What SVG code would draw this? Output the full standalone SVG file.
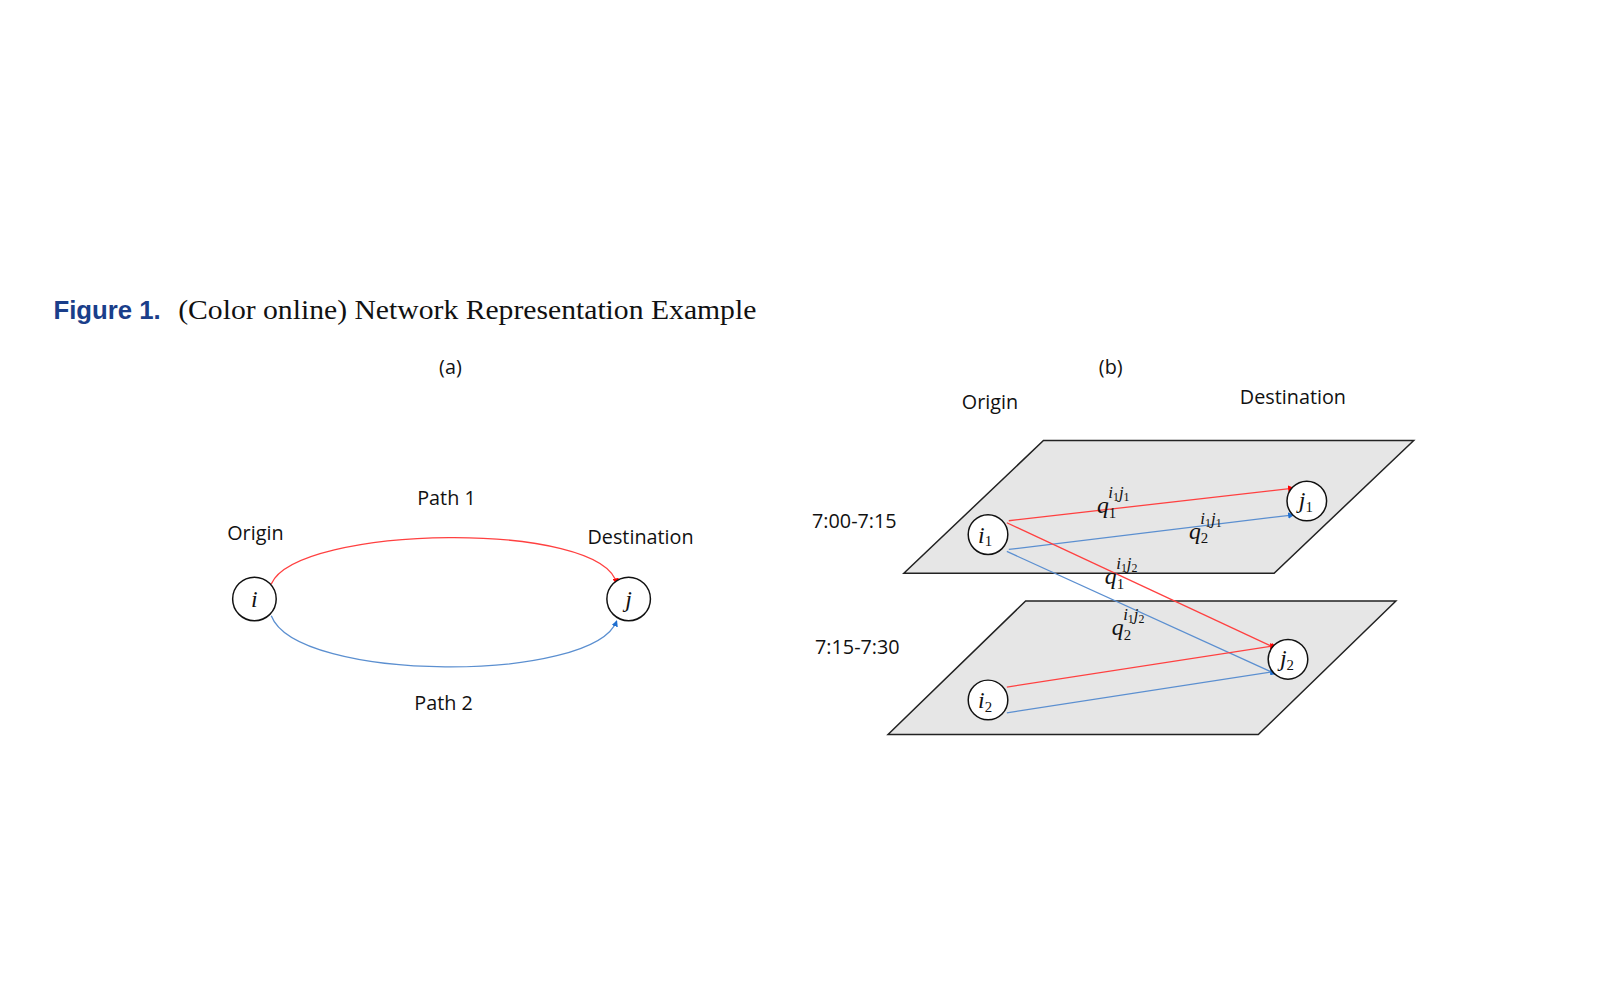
<svg xmlns="http://www.w3.org/2000/svg" width="1600" height="1000" viewBox="0 0 1600 1000">
<defs>
<marker id="ar" viewBox="0 0 10 10" refX="9" refY="5" markerWidth="5" markerHeight="5" orient="auto"><path d="M0,0L10,5L0,10z" fill="#ff0000"/></marker>
<marker id="ab" viewBox="0 0 10 10" refX="9" refY="5" markerWidth="5" markerHeight="5" orient="auto"><path d="M0,0L10,5L0,10z" fill="#1f6fd0"/></marker>
</defs>
<style>
.lbl{font-family:"Open Sans","Liberation Sans",sans-serif;font-size:20px;fill:#111;text-anchor:middle}
.m{font-family:"Liberation Serif",serif;font-style:italic;fill:#111}
.nd{fill:#fff;stroke:#111;stroke-width:1.5}
.pl{fill:#e6e6e6;stroke:#222;stroke-width:1.5}
.r{stroke:#ff4040;stroke-width:1.3;fill:none;marker-end:url(#ar)}
.b{stroke:#5b8fd0;stroke-width:1.3;fill:none;marker-end:url(#ab)}
</style>
<rect width="1600" height="1000" fill="#fff"/>
<g transform="scale(0.99)">
<text x="54" y="322" font-family="Liberation Sans,Arial,sans-serif" font-weight="bold" font-size="26" fill="#1a3e8a">Figure 1.</text>
<text x="180" y="322" font-family="Liberation Serif,serif" font-size="27" fill="#111" textLength="584" lengthAdjust="spacingAndGlyphs">(Color online) Network Representation Example</text>
<text class="lbl" x="455" y="378">(a)</text>
<text class="lbl" x="1122" y="378">(b)</text>
<g id="planes">
<polygon class="pl" points="1054,445 1428,445 1287,579 913,579"/>
<polygon class="pl" points="1036,607 1410,607 1271,742 897,742"/>
</g>
<g id="connectors">
<path class="r" d="M274,590 C300,530 610,525 623,590"/>
<path class="b" d="M274,622 C300,690 600,690 623,627"/>
<line class="r" x1="1019" y1="526" x2="1307" y2="493"/>
<line class="b" x1="1019" y1="555" x2="1307" y2="520"/>
<line class="r" x1="1017" y1="528" x2="1289" y2="655"/>
<line class="b" x1="1017" y1="557" x2="1289" y2="681"/>
<line class="r" x1="1017" y1="694" x2="1289" y2="652"/>
<line class="b" x1="1017" y1="720" x2="1289" y2="678"/>
</g>
<g id="node-i"><circle class="nd" cx="257" cy="605" r="22"/><text class="m" x="257" y="613" font-size="24" text-anchor="middle">i</text></g>
<g id="node-j"><circle class="nd" cx="635" cy="605" r="22"/><text class="m" x="635" y="613" font-size="24" text-anchor="middle">j</text></g>
<g id="node-i1"><circle class="nd" cx="998" cy="540" r="20"/><text class="m" x="995" y="548" font-size="24" text-anchor="middle">i<tspan font-style="normal" font-size="15" dy="4">1</tspan></text></g>
<g id="node-j1"><circle class="nd" cx="1320" cy="506" r="20"/><text class="m" x="1319" y="513" font-size="24" text-anchor="middle">j<tspan font-style="normal" font-size="15" dy="4">1</tspan></text></g>
<g id="node-j2"><circle class="nd" cx="1301" cy="666" r="20"/><text class="m" x="1300" y="673" font-size="24" text-anchor="middle">j<tspan font-style="normal" font-size="15" dy="4">2</tspan></text></g>
<g id="node-i2"><circle class="nd" cx="998" cy="707" r="20"/><text class="m" x="995" y="715" font-size="24" text-anchor="middle">i<tspan font-style="normal" font-size="15" dy="4">2</tspan></text></g>
<g id="labels">
<text class="lbl" x="258" y="545">Origin</text>
<text class="lbl" x="451" y="510">Path 1</text>
<text class="lbl" x="647" y="550">Destination</text>
<text class="lbl" x="448" y="717">Path 2</text>
<text class="lbl" x="1000" y="413">Origin</text>
<text class="lbl" x="1306" y="408">Destination</text>
<text class="lbl" x="863" y="533">7:00-7:15</text>
<text class="lbl" x="866" y="661">7:15-7:30</text>
<text class="m" x="1108" y="518" font-size="24">q<tspan font-style="normal" font-size="15" dy="5">1</tspan><tspan font-size="17" dx="-8" dy="-20">i</tspan><tspan font-style="normal" font-size="12" dy="3">1</tspan><tspan font-size="17" dy="-3">j</tspan><tspan font-style="normal" font-size="12" dy="3">1</tspan></text>
<text class="m" x="1201" y="544" font-size="24">q<tspan font-style="normal" font-size="15" dy="5">2</tspan><tspan font-size="17" dx="-8" dy="-20">i</tspan><tspan font-style="normal" font-size="12" dy="3">1</tspan><tspan font-size="17" dy="-3">j</tspan><tspan font-style="normal" font-size="12" dy="3">1</tspan></text>
<text class="m" x="1116" y="590" font-size="24">q<tspan font-style="normal" font-size="15" dy="5">1</tspan><tspan font-size="17" dx="-8" dy="-20">i</tspan><tspan font-style="normal" font-size="12" dy="3">1</tspan><tspan font-size="17" dy="-3">j</tspan><tspan font-style="normal" font-size="12" dy="3">2</tspan></text>
<text class="m" x="1123" y="641" font-size="24">q<tspan font-style="normal" font-size="15" dy="5">2</tspan><tspan font-size="17" dx="-8" dy="-20">i</tspan><tspan font-style="normal" font-size="12" dy="3">1</tspan><tspan font-size="17" dy="-3">j</tspan><tspan font-style="normal" font-size="12" dy="3">2</tspan></text>
</g>
</g>
</svg>
